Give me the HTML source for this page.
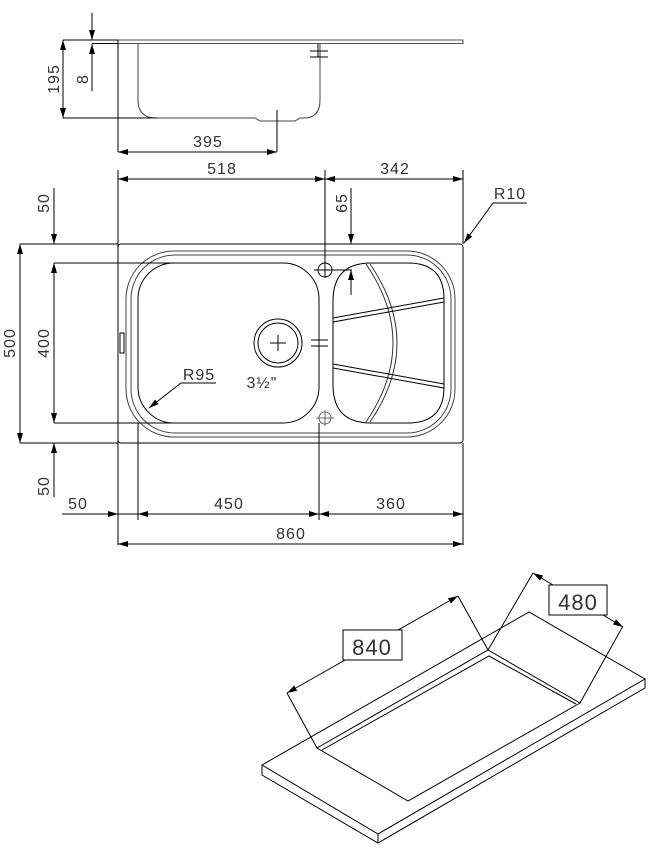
<!DOCTYPE html>
<html><head><meta charset="utf-8"><style>
html,body{margin:0;padding:0;background:#fff}
svg{display:block}
text{font-family:"Liberation Sans",sans-serif;font-size:16px;fill:#333;letter-spacing:1px}
</style></head><body>
<svg width="657" height="851" viewBox="0 0 657 851" xmlns="http://www.w3.org/2000/svg">
<defs>
<marker id="a" viewBox="0 0 10 6" refX="10" refY="3" markerWidth="10" markerHeight="6" orient="auto-start-reverse" markerUnits="userSpaceOnUse"><path d="M0,0 L10,3 L0,6 z" fill="#000"/></marker>
</defs>
<g fill="none" stroke="#000" stroke-width="1">
<rect x="118" y="40" width="345" height="3.5" fill="none" stroke="#555"/>
<line x1="118" y1="40" x2="118" y2="152"/>
<path d="M138,43 V100 Q138,118 156,118 H255 L260,121 H295 L300,118 H304 Q320,118 320,100 V43" stroke="#444"/>
<line x1="318" y1="44" x2="318" y2="57"/>
<line x1="310" y1="51" x2="328" y2="51"/><line x1="310" y1="57" x2="328" y2="57"/>
<line x1="63" y1="40" x2="118" y2="40"/>
<line x1="63" y1="118" x2="157" y2="118"/>
<line x1="63" y1="40" x2="63" y2="118" marker-start="url(#a)" marker-end="url(#a)"/>
<line x1="92" y1="43.5" x2="118" y2="43.5"/>
<line x1="92" y1="13" x2="92" y2="40" marker-end="url(#a)"/>
<line x1="92" y1="91" x2="92" y2="44" marker-end="url(#a)"/>
<line x1="277" y1="110" x2="277" y2="152"/>
<line x1="118" y1="152" x2="277" y2="152" marker-start="url(#a)" marker-end="url(#a)"/>

<rect x="118" y="244" width="345" height="199" rx="3"/>
<rect x="126" y="251" width="329" height="186" rx="48" stroke="#444"/>
<rect x="131" y="255" width="320" height="178" rx="44" stroke="#444"/>
<rect x="138" y="263" width="181" height="160" rx="36"/>
<path d="M371,263 H408 Q444,263 444,299 V387 Q444,423 408,423 H371 Q333,423 333,385 V301 Q333,263 371,263 Z"/>
<path d="M366,264 Q420,343 366,422" stroke="#333"/>
<path d="M370,264 Q424,343 370,422" stroke="#333"/>
<path d="M333,318 L444,298 M333,322 L444,302"/>
<path d="M333,364 L444,384 M333,368 L444,388"/>
<rect x="120" y="333" width="4" height="20"/>
<circle cx="278" cy="343" r="24"/><circle cx="278" cy="343" r="20"/>
<path d="M270,343 H286 M278,335 V351"/>
<circle cx="325" cy="270" r="7"/>
<path d="M314,270 H352 M325,262 V278"/>
<circle cx="325" cy="418" r="6" stroke="#666"/>
<path d="M316,418 H334 M325,410 V426" stroke="#666"/>
<path d="M311,340 H328 M311,346 H328"/>
<line x1="118" y1="170" x2="118" y2="545"/>
<line x1="463" y1="170" x2="463" y2="244"/>
<line x1="463" y1="443" x2="463" y2="545"/>
<line x1="325" y1="170" x2="325" y2="262"/>
<line x1="319" y1="423" x2="319" y2="520"/>
<line x1="138" y1="423" x2="138" y2="520"/>
<line x1="20" y1="244" x2="118" y2="244"/>
<line x1="20" y1="443" x2="118" y2="443"/>
<line x1="54" y1="263" x2="172" y2="263"/>
<line x1="54" y1="423" x2="175" y2="423"/>
<line x1="118" y1="179" x2="325" y2="179" marker-start="url(#a)" marker-end="url(#a)"/>
<line x1="325" y1="179" x2="463" y2="179" marker-start="url(#a)" marker-end="url(#a)"/>
<line x1="20" y1="244" x2="20" y2="443" marker-start="url(#a)" marker-end="url(#a)"/>
<line x1="54" y1="263" x2="54" y2="423" marker-start="url(#a)" marker-end="url(#a)"/>
<line x1="54" y1="188" x2="54" y2="244" marker-end="url(#a)"/>
<line x1="54" y1="497" x2="54" y2="443" marker-end="url(#a)"/>
<line x1="351" y1="188" x2="351" y2="244" marker-end="url(#a)"/>
<line x1="351" y1="295" x2="351" y2="270" marker-end="url(#a)"/>
<line x1="62" y1="514" x2="118" y2="514" marker-end="url(#a)"/>
<line x1="118" y1="514" x2="138" y2="514"/>
<line x1="138" y1="514" x2="319" y2="514" marker-start="url(#a)" marker-end="url(#a)"/>
<line x1="319" y1="514" x2="463" y2="514" marker-start="url(#a)" marker-end="url(#a)"/>
<line x1="118" y1="544" x2="463" y2="544" marker-start="url(#a)" marker-end="url(#a)"/>
<path d="M527,203 H493 L464,243" marker-end="url(#a)"/>
<path d="M216,383 H181 L149,408" marker-end="url(#a)"/>

<path d="M262,765 L529,612 L645,679 L378,834 Z"/>
<path d="M262,765 V775 L378,843 L645,688 V679 M378,834 V843"/>
<path d="M317,748 L488,650 L580,703 L408,801 Z"/>
<path d="M322,750 L489,656 L576,704"/>
<line x1="317" y1="748" x2="287" y2="693"/>
<line x1="488" y1="650" x2="458" y2="596"/>
<line x1="287" y1="693" x2="458" y2="596" marker-start="url(#a)" marker-end="url(#a)"/>
<line x1="488" y1="650" x2="533" y2="573"/>
<line x1="580" y1="703" x2="623" y2="626"/>
<line x1="533" y1="573" x2="623" y2="627" marker-start="url(#a)" marker-end="url(#a)"/>
<rect x="343" y="630" width="59" height="30" fill="#fff"/>
<rect x="549" y="585" width="58" height="30" fill="#fff"/>
</g>
<text x="208" y="147" text-anchor="middle">395</text>
<text transform="translate(59,79) rotate(-90)" text-anchor="middle">195</text>
<text transform="translate(88,79) rotate(-90)" text-anchor="middle">8</text>
<text x="222" y="174" text-anchor="middle">518</text>
<text x="395" y="174" text-anchor="middle">342</text>
<text x="510" y="199" text-anchor="middle">R10</text>
<text transform="translate(49,203) rotate(-90)" text-anchor="middle">50</text>
<text transform="translate(347,203) rotate(-90)" text-anchor="middle">65</text>
<text transform="translate(15,343) rotate(-90)" text-anchor="middle">500</text>
<text transform="translate(49,343) rotate(-90)" text-anchor="middle">400</text>
<text transform="translate(49,486) rotate(-90)" text-anchor="middle">50</text>
<text x="199" y="380" text-anchor="middle">R95</text>
<text x="262" y="388" text-anchor="middle">3½"</text>
<text x="78" y="509" text-anchor="middle">50</text>
<text x="229" y="509" text-anchor="middle">450</text>
<text x="391" y="509" text-anchor="middle">360</text>
<text x="291" y="539" text-anchor="middle">860</text>
<text x="372" y="655" text-anchor="middle" style="font-size:22px">840</text>
<text x="578" y="610" text-anchor="middle" style="font-size:22px">480</text>
</svg>
</body></html>
